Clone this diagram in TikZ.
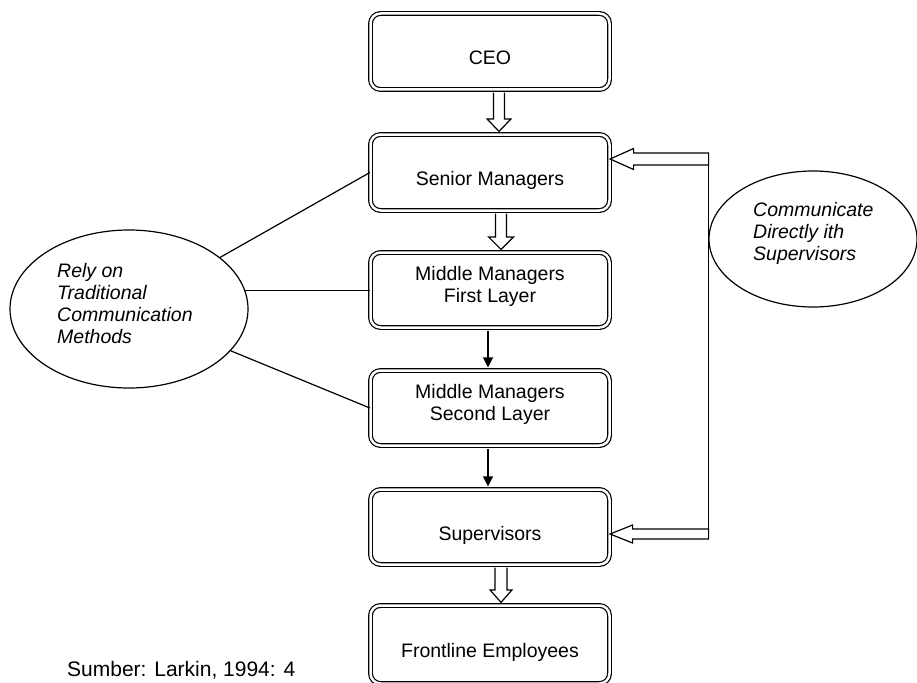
\documentclass[tikz,border=0pt]{standalone}
\usepackage{fontspec}
\setmainfont{Liberation Sans}
\usetikzlibrary{shapes.geometric,calc,arrows.meta}
\newcommand{\hollowdown}[5]{%
  \draw[hollow] ($(#1.south)+(#3-#4,2.5)$) -- ($(#2.north)+(#3-#4,-15)$)
    -- ($(#2.north)+(#3-#5,-15)$) -- ($(#2.north)+(#3,-2.5)$)
    -- ($(#2.north)+(#3+#5,-15)$) -- ($(#2.north)+(#3+#4,-15)$)
    -- ($(#1.south)+(#3+#4,2.5)$);}
\begin{document}
\begin{tikzpicture}[x=1pt,y=-1pt,
  box/.style={draw, double, double distance=2.5pt, line width=1.2pt,
    rounded corners=10pt, fill=white, minimum width=239pt, inner sep=0pt,
    align=center, font=\fontsize{19.5}{22}\selectfont},
  oneline/.style={text height=28pt, text depth=2pt},
  twoline/.style={text height=36.5pt, text depth=12.5pt},
  oval/.style={draw, ellipse, line width=1.2pt, inner sep=0pt},
  hollow/.style={draw, line width=1.2pt, fill=white, line join=miter},
  slim/.style={line width=1.4pt, -{Triangle[length=10pt,width=10pt]}},
  link/.style={line width=1.2pt},
  note/.style={font=\itshape\fontsize{19.5}{22}\selectfont, align=left,
    inner sep=0pt, anchor=north west}
]
\useasboundingbox (0,0) rectangle (917,682);

% boxes
\node[box, oneline, minimum height=76pt] (ceo) at (490,51.5) {CEO};
\node[box, oneline, minimum height=76pt] (sen) at (490,172.5) {Senior Managers};
\node[box, twoline, minimum height=75pt] (mm1) at (490,290) {Middle Managers\\First Layer};
\node[box, twoline, minimum height=75pt] (mm2) at (490,408) {Middle Managers\\Second Layer};
\node[box, oneline, minimum height=75pt] (sup) at (490,527) {Supervisors};
\node[box, oneline, minimum height=78pt] (front) at (490,644.5) {Frontline Employees};

% ellipses
\node[oval, minimum width=238pt, minimum height=158pt] (rely) at (129,309) {};
\node[note] (relytxt) at (57,263) {Rely on\\Traditional\\Communication\\Methods};
\node[oval, minimum width=208pt, minimum height=136pt] (comm) at (813,239) {};
\node[note] (commtxt) at (753,202) {Communicate\\Directly ith\\Supervisors};

% source
\node[font=\fontsize{21}{24}\selectfont, inner sep=0pt, anchor=north west] (src)
  at (67,661) {Sumber: Larkin, 1994: 4};

% left links
\draw[link] (rely) -- (sen.west);
\draw[link] (rely.9) -- (rely.9 -| mm1.west);
\draw[link] (rely) -- (mm2.west);

% vertical arrows
\hollowdown{ceo}{sen}{9}{5.5}{12}
\hollowdown{sen}{mm1}{11}{5.5}{12.5}
\hollowdown{sup}{front}{11}{6}{11}
\draw[slim] ($(mm1.south)+(-2,2.5)$) -- ($(mm2.north)+(-2,-2.5)$);
\draw[slim] ($(mm2.south)+(-2,2.5)$) -- ($(sup.north)+(-2,-2.5)$);

% right side
\coordinate (ta) at (sen.east |- 0,159);
\coordinate (tb) at (sup.east |- 0,534);
\draw[hollow] (ta) -- ++(23.5,-10.5) -- ++(0,4.5) -- ++(75,0) coordinate (ra)
  -- ++(0,12) -- ++(-75,0) -- ++(0,4.5) -- cycle;
\draw[hollow] (tb) -- ++(22.5,-9) -- ++(0,4) -- ++(76,0) coordinate (rb)
  -- ++(0,10) -- ++(-76,0) -- ++(0,4) -- cycle;
\draw[link] (ra) -- (rb);
\end{tikzpicture}
\end{document}
